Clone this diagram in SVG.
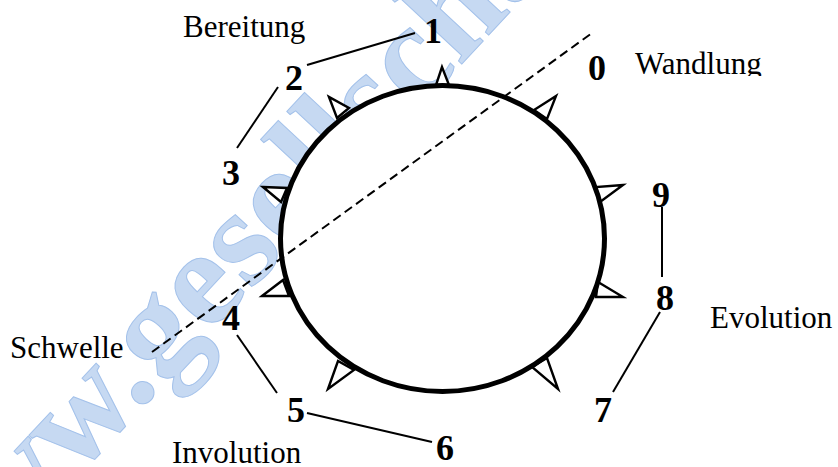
<svg xmlns="http://www.w3.org/2000/svg" width="838" height="467" viewBox="0 0 838 467">
  <style>
    .lbl { font-family: "Liberation Serif", "Times New Roman", serif; font-size: 31px; fill: #000; }
    .num { font-family: "Liberation Serif", "Times New Roman", serif; font-size: 36px; font-weight: bold; fill: #000; text-anchor: middle; }
    .wm { font-family: "Liberation Serif", "Times New Roman", serif; font-size: 138px; font-weight: bold; fill: #c6d9f2; stroke: #a3c1ea; stroke-width: 1; }
    .spike { fill: #fff; stroke: #000; stroke-width: 2.4; stroke-linejoin: miter; }
    .conn { stroke: #000; stroke-width: 2; fill: none; }
  </style>
  <defs>
    <clipPath id="clipW"><rect x="600" y="0" width="238" height="76"/></clipPath>
  </defs>
  <rect width="838" height="467" fill="#fff"/>
  <g id="watermark">
    <text class="wm" transform="translate(156,392) rotate(-47)" x="-318" y="0">www.gesellschaft</text>
  </g>
  <g id="wheel">
    <polygon class="spike" points="442,67 436,85 449,85"/>
    <polygon class="spike" points="329,97 337,118 349,108"/>
    <polygon class="spike" points="556,96 534,110 547,119"/>
    <polygon class="spike" points="263,187 287,188 281,202"/>
    <polygon class="spike" points="262,296 283,280 289,296"/>
    <polygon class="spike" points="623,185 596,187 600,202"/>
    <polygon class="spike" points="598,282 623,297 596,297"/>
    <polygon class="spike" points="328,389 338,361 354,370"/>
    <polygon class="spike" points="558,389 547,358 532,367"/>
    <ellipse cx="442.5" cy="238.5" rx="162" ry="153" fill="#fff" stroke="#000" stroke-width="5"/>
  </g>
  <g id="connectors">
    <line x1="152" y1="352" x2="592" y2="33" stroke="#000" stroke-width="2" stroke-dasharray="9,5"/>
    <line class="conn" x1="307" y1="65" x2="415" y2="33"/>
    <line class="conn" x1="278" y1="87" x2="237" y2="148"/>
    <line class="conn" x1="237" y1="335" x2="277" y2="393"/>
    <line class="conn" x1="307" y1="413" x2="432" y2="442"/>
    <line class="conn" x1="662" y1="207" x2="662" y2="277" stroke-width="1.5"/>
    <line class="conn" x1="660" y1="312" x2="613" y2="392" stroke-width="1.5"/>
  </g>
  <g id="n1"><text class="num" x="433" y="43">1</text></g>
  <g id="n2"><text class="num" x="294" y="90">2</text></g>
  <g id="n3"><text class="num" x="231" y="185">3</text></g>
  <g id="n4"><text class="num" x="231" y="330">4</text></g>
  <g id="n5"><text class="num" x="296" y="422">5</text></g>
  <g id="n6"><text class="num" x="445" y="460">6</text></g>
  <g id="n7"><text class="num" x="603" y="422">7</text></g>
  <g id="n8"><text class="num" x="665" y="310">8</text></g>
  <g id="n9"><text class="num" x="661" y="207">9</text></g>
  <g id="n0"><text class="num" x="597" y="80">0</text></g>
  <g id="labels">
    <text class="lbl" x="183" y="37">Bereitung</text>
    <text class="lbl" x="635" y="74" clip-path="url(#clipW)">Wandlung</text>
    <text class="lbl" x="10" y="358">Schwelle</text>
    <text class="lbl" x="172" y="463">Involution</text>
    <text class="lbl" x="710" y="328">Evolution</text>
  </g>
</svg>
